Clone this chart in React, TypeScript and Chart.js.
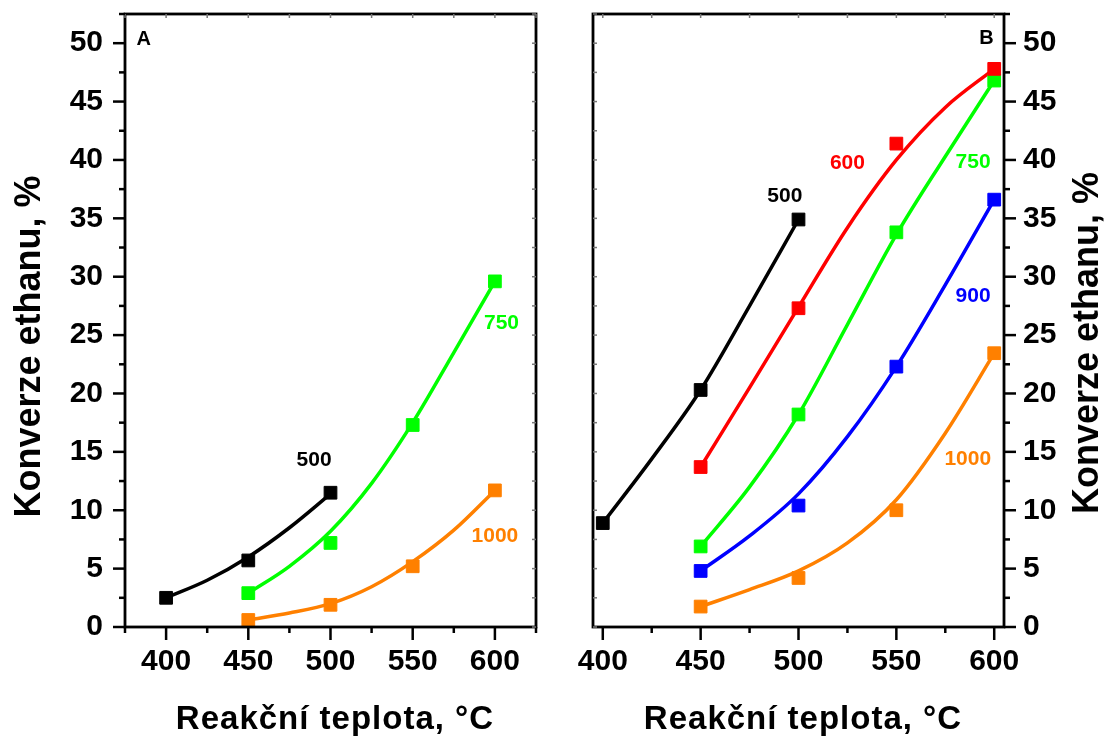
import React, { useEffect, useRef } from "react";
import { Chart, registerables } from "chart.js";

Chart.register(...registerables);

const FONT_FAMILY = '"Liberation Sans", Arial, Helvetica, sans-serif';

// Series colours, keyed by the number printed next to each curve
const SERIES_COLORS: Record<string, string> = {
  "500": "#000000",
  "600": "#ff0000",
  "750": "#00ff00",
  "900": "#0000ff",
  "1000": "#ff8000",
};

// Axis tick labels
const xTickValues = [400, 450, 500, 550, 600];
const yTickValues = [0, 5, 10, 15, 20, 25, 30, 35, 40, 45, 50];
const Y_MAX = 52.5;
const X_MINOR_STEP = 25;
const Y_MINOR_STEP = 2.5;

// ---- Panel A: measured conversions ----
const tempsA500 = [400, 450, 500];
const convA500 = [2.5, 5.7, 11.5];
const tempsA = [450, 500, 550, 600];
const convA750 = [2.9, 7.2, 17.3, 29.6];
const convA1000 = [0.6, 1.9, 5.2, 11.7];

// Panel A: smoothed trend lines
const trendTempsA500 = [400, 425, 450, 475, 500];
const trendA500 = [2.5, 4.0, 6.0, 8.5, 11.4];
const trendTempsA = [450, 475, 500, 525, 550, 575, 600];
const trendA750 = [2.9, 5.2, 8.2, 12.3, 17.5, 23.5, 29.6];
const trendA1000 = [0.6, 1.2, 2.0, 3.45, 5.6, 8.3, 11.7];

// ---- Panel B: measured conversions ----
const tempsB500 = [400, 450, 500];
const convB500 = [8.9, 20.3, 34.9];
const tempsB = [450, 500, 550, 600];
const convB600 = [13.7, 27.3, 41.4, 47.8];
const convB750 = [6.9, 18.2, 33.8, 46.8];
const convB900 = [4.8, 10.4, 22.3, 36.6];
const convB1000 = [1.75, 4.2, 10.0, 23.45];

// Panel B: smoothed trend lines
const trendTempsB500 = [400, 425, 450, 475, 500];
const trendB500 = [8.9, 14.4, 20.3, 27.5, 34.9];
const trendTempsB = [450, 475, 500, 525, 550, 575, 600];
const trendB600 = [13.7, 20.5, 27.4, 34.2, 40.0, 44.5, 47.8];
const trendB750 = [6.9, 12.0, 18.2, 25.9, 33.6, 40.3, 46.8];
const trendB900 = [4.8, 7.8, 11.4, 16.3, 22.3, 29.3, 36.6];
const trendB1000 = [1.75, 3.2, 4.8, 7.2, 10.9, 16.6, 23.45];

// Curve name anchors (temperature, conversion)
const labelAtA: Record<string, [number, number]> = {
  "500": [490, 14.3],
  "750": [604, 26.0],
  "1000": [600, 7.8],
};
const labelAtB: Record<string, [number, number]> = {
  "500": [493, 36.9],
  "600": [525, 39.7],
  "750": [589.2, 39.8],
  "900": [589.2, 28.3],
  "1000": [586.5, 14.4],
};

const X_TITLE = "Reakční teplota, °C";
const Y_TITLE = "Konverze ethanu, %";

type Series = {
  name: string;
  temps: number[];
  conv: number[];
  trendTemps: number[];
  trend: number[];
};

type PanelSpec = {
  letter: string;
  letterAt: [number, number];
  xMin: number;
  xMax: number;
  yPosition: "left" | "right";
  yAxisWidth: number;
  yTickPadding: number;
  padLeft: number;
  padRight: number;
  series: Series[];
  labelAt: Record<string, [number, number]>;
  yTitleBaselineX: number;
  yTitleCenterY: number;
  xTitleCenterX: number;
};

const CANVAS_H = 736;
const PLOT_TOP = 14;
const X_AXIS_H = 109;

const panelA: PanelSpec = {
  letter: "A",
  letterAt: [386.4, 50.3],
  xMin: 375,
  xMax: 625,
  yPosition: "left",
  yAxisWidth: 125,
  yTickPadding: 22,
  padLeft: 0,
  padRight: 28,
  series: [
    { name: "500", temps: tempsA500, conv: convA500, trendTemps: trendTempsA500, trend: trendA500 },
    { name: "750", temps: tempsA, conv: convA750, trendTemps: trendTempsA, trend: trendA750 },
    { name: "1000", temps: tempsA, conv: convA1000, trendTemps: trendTempsA, trend: trendA1000 },
  ],
  labelAt: labelAtA,
  yTitleBaselineX: 40,
  yTitleCenterY: 346.5,
  xTitleCenterX: 335,
};

const panelB: PanelSpec = {
  letter: "B",
  letterAt: [596, 50.4],
  xMin: 395,
  xMax: 605,
  yPosition: "right",
  yAxisWidth: 100,
  yTickPadding: 19,
  padLeft: 29,
  padRight: 0,
  series: [
    { name: "500", temps: tempsB500, conv: convB500, trendTemps: trendTempsB500, trend: trendB500 },
    { name: "600", temps: tempsB, conv: convB600, trendTemps: trendTempsB, trend: trendB600 },
    { name: "750", temps: tempsB, conv: convB750, trendTemps: trendTempsB, trend: trendB750 },
    { name: "900", temps: tempsB, conv: convB900, trendTemps: trendTempsB, trend: trendB900 },
    { name: "1000", temps: tempsB, conv: convB1000, trendTemps: trendTempsB, trend: trendB1000 },
  ],
  labelAt: labelAtB,
  yTitleBaselineX: 534,
  yTitleCenterY: 343,
  xTitleCenterX: 239,
};

function decorPlugin(spec: PanelSpec) {
  return {
    id: "panelDecor",
    afterDraw(chart: any) {
      const { ctx, chartArea: a, scales } = chart;
      const xs = scales.x;
      const ys = scales.y;
      ctx.save();

      // frame
      ctx.strokeStyle = "#000";
      ctx.lineWidth = 2.8;
      ctx.strokeRect(a.left, a.top, a.right - a.left, a.bottom - a.top);

      // x ticks: outward on the bottom, faint inward on the top
      for (let k = 0; ; k++) {
        const v = Math.ceil(spec.xMin / X_MINOR_STEP) * X_MINOR_STEP + k * X_MINOR_STEP;
        if (v > spec.xMax + 1e-9) break;
        const px = xs.getPixelForValue(v);
        const major = xTickValues.includes(v);
        ctx.strokeStyle = "#000";
        ctx.lineWidth = 2.5;
        ctx.beginPath();
        ctx.moveTo(px, a.bottom);
        ctx.lineTo(px, a.bottom + (major ? 13 : 6));
        ctx.stroke();
        ctx.strokeStyle = "#777";
        ctx.lineWidth = 1.5;
        ctx.beginPath();
        ctx.moveTo(px, a.top);
        ctx.lineTo(px, a.top + 4);
        ctx.stroke();
      }

      // y ticks
      const dir = spec.yPosition === "left" ? -1 : 1;
      const edge = dir < 0 ? a.left : a.right;
      const mirror = dir < 0 ? a.right : a.left;
      for (let k = 0; k * Y_MINOR_STEP <= Y_MAX + 1e-9; k++) {
        const v = k * Y_MINOR_STEP;
        const py = ys.getPixelForValue(v);
        const major = yTickValues.includes(v);
        ctx.strokeStyle = "#000";
        ctx.lineWidth = 2.5;
        ctx.beginPath();
        ctx.moveTo(edge, py);
        ctx.lineTo(edge + dir * (major ? 12 : 6), py);
        ctx.stroke();
        ctx.strokeStyle = "#777";
        ctx.lineWidth = 1.5;
        ctx.beginPath();
        ctx.moveTo(mirror, py);
        ctx.lineTo(mirror + dir * 4, py);
        ctx.stroke();
      }

      // curve names
      ctx.textAlign = "center";
      ctx.textBaseline = "middle";
      ctx.font = `bold 21px ${FONT_FAMILY}`;
      for (const s of spec.series) {
        const at = spec.labelAt[s.name];
        ctx.fillStyle = SERIES_COLORS[s.name];
        ctx.fillText(s.name, xs.getPixelForValue(at[0]), ys.getPixelForValue(at[1]));
      }

      // panel letter
      ctx.fillStyle = "#000";
      ctx.font = `bold 20px ${FONT_FAMILY}`;
      ctx.fillText(spec.letter, xs.getPixelForValue(spec.letterAt[0]), ys.getPixelForValue(spec.letterAt[1]));

      // x axis title
      ctx.textBaseline = "alphabetic";
      ctx.font = `bold 33px ${FONT_FAMILY}`;
      try {
        (ctx as any).letterSpacing = "1px";
      } catch (e) {
        /* not supported */
      }
      ctx.fillText(X_TITLE, spec.xTitleCenterX, 729);
      try {
        (ctx as any).letterSpacing = "0px";
      } catch (e) {
        /* not supported */
      }

      // y axis title, reading upwards
      ctx.font = `bold 36px ${FONT_FAMILY}`;
      ctx.translate(spec.yTitleBaselineX, spec.yTitleCenterY);
      ctx.rotate(-Math.PI / 2);
      ctx.fillText(Y_TITLE, 0, 0);

      ctx.restore();
    },
  };
}

function buildConfig(spec: PanelSpec): any {
  const markerSets = spec.series.map((s) => ({
    label: `${s.name} body`,
    data: s.temps.map((t, i) => ({ x: t, y: s.conv[i] })),
    showLine: false,
    pointStyle: "rect",
    pointRadius: 9,
    pointBorderWidth: 1,
    pointBackgroundColor: SERIES_COLORS[s.name],
    pointBorderColor: SERIES_COLORS[s.name],
    order: 0,
  }));
  const trendSets = spec.series.map((s) => ({
    label: `${s.name} trend`,
    data: s.trendTemps.map((t, i) => ({ x: t, y: s.trend[i] })),
    showLine: true,
    borderColor: SERIES_COLORS[s.name],
    borderWidth: 3.5,
    pointRadius: 0,
    cubicInterpolationMode: "monotone",
    fill: false,
    order: 1,
  }));
  const tickFont = { family: FONT_FAMILY, size: 30, weight: "bold" as const };

  return {
    type: "scatter",
    data: { datasets: [...markerSets, ...trendSets] },
    options: {
      responsive: false,
      animation: false,
      events: [],
      layout: {
        padding: { top: PLOT_TOP, left: spec.padLeft, right: spec.padRight, bottom: 0 },
      },
      plugins: {
        legend: { display: false },
        tooltip: { enabled: false },
      },
      scales: {
        x: {
          type: "linear",
          min: spec.xMin,
          max: spec.xMax,
          grid: { display: false, drawTicks: false },
          border: { display: false },
          ticks: {
            font: tickFont,
            color: "#000",
            padding: 17,
            maxRotation: 0,
            autoSkip: false,
          },
          afterBuildTicks: (scale: any) => {
            scale.ticks = xTickValues.map((v) => ({ value: v }));
          },
          afterFit: (scale: any) => {
            scale.height = X_AXIS_H;
            scale.paddingLeft = 0;
            scale.paddingRight = 0;
          },
        },
        y: {
          type: "linear",
          position: spec.yPosition,
          min: 0,
          max: Y_MAX,
          grid: { display: false, drawTicks: false },
          border: { display: false },
          ticks: {
            font: tickFont,
            color: "#000",
            padding: spec.yTickPadding,
            autoSkip: false,
          },
          afterBuildTicks: (scale: any) => {
            scale.ticks = yTickValues.map((v) => ({ value: v }));
          },
          afterFit: (scale: any) => {
            scale.width = spec.yAxisWidth;
            scale.paddingTop = 0;
            scale.paddingBottom = 0;
          },
        },
      },
    },
    plugins: [decorPlugin(spec)],
  };
}

function Panel({ spec, left, width }: { spec: PanelSpec; left: number; width: number }) {
  const ref = useRef<HTMLCanvasElement>(null);
  useEffect(() => {
    if (!ref.current) return;
    const chart = new Chart(ref.current, buildConfig(spec));
    return () => chart.destroy();
  }, [spec]);
  return (
    <canvas
      ref={ref}
      width={width}
      height={CANVAS_H}
      style={{ position: "absolute", left, top: 0, width, height: CANVAS_H }}
    />
  );
}

export default function App() {
  return (
    <div
      style={{
        position: "fixed",
        left: 0,
        top: 0,
        width: 1104,
        height: CANVAS_H,
        background: "#fff",
        overflow: "hidden",
      }}
    >
      <Panel spec={panelA} left={0} width={564} />
      <Panel spec={panelB} left={564} width={540} />
    </div>
  );
}
